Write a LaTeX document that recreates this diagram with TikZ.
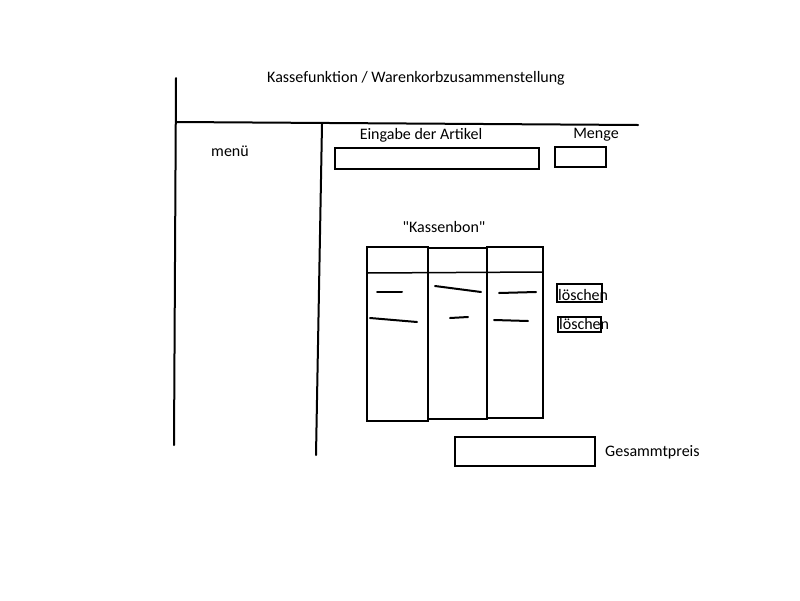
\documentclass[tikz,border=0pt]{standalone}
\usepackage{fontspec}
\setmainfont{Carlito}
\begin{document}
\begin{tikzpicture}[x=1pt,y=-1pt,
  ln/.style={line width=2pt,line cap=round},
  lbl/.style={inner sep=0pt,font=\fontsize{16}{18}\selectfont},
  fld/.style={draw,line width=2pt}]
\useasboundingbox[fill=white] (0,0) rectangle (800,600);
% frame lines
\coordinate (v1t) at (176,78); \coordinate (v1b) at (174,445);
\coordinate (hl) at (176,122); \coordinate (hr) at (638,125);
\coordinate (v2t) at (322,124); \coordinate (v2b) at (316,455);
\draw[ln] (v1t) -- (v1b);
\draw[ln] (hl) -- (hr);
\draw[ln] (v2t) -- (v2b);
% texts
\node[lbl] (title) at (416,78) {Kassefunktion / Warenkorbzusammenstellung};
\node[lbl] (menu) at (230,151) {menü};
\node[lbl] (eing) at (421,135) {Eingabe der Artikel};
\node[lbl] (menge) at (596,135) {Menge};
\node[lbl] (bon) at (444,227) {\textquotedbl Kassenbon\textquotedbl};
% input fields
\draw[fld] (335,148) rectangle (539,169);
\draw[fld] (555,147) rectangle (606,167);
% table
\draw[fld] (367,247) rectangle (428,421);
\draw[fld] (428,248) rectangle (487,419);
\draw[fld] (487,247) rectangle (543,418);
\draw[line width=1.5pt] (367,273) -- (543,272);
% dashes
\draw[ln] (377,292) -- (402,292);
\draw[ln] (370,318) -- (417,322);
\draw[ln] (435,286) -- (481,292);
\draw[ln] (450,318) -- (468,317);
\draw[ln] (499,293) -- (536,292);
\draw[ln] (494,320) -- (528,321);
% loeschen
\draw[fld] (557,284) rectangle (602,302);
\node[lbl,anchor=west] (l1) at (558,295) {löschen};
\draw[fld] (558,317) rectangle (601,332);
\node[lbl,anchor=west] (l2) at (559,324) {löschen};
% total
\draw[fld] (455,437) rectangle (595,466);
\node[lbl,anchor=west] (ges) at (605,452) {Gesammtpreis};
\end{tikzpicture}
\end{document}
